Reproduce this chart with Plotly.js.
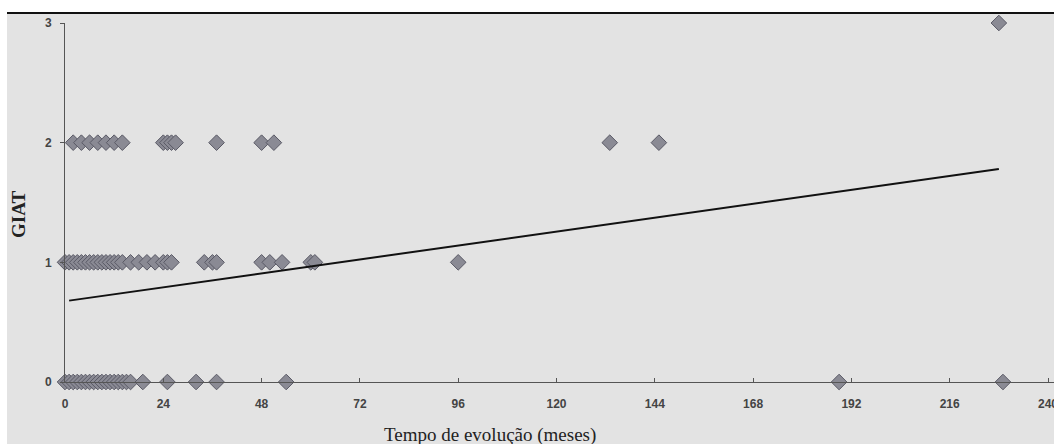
<!DOCTYPE html>
<html><head><meta charset="utf-8">
<script src="https://cdn.plot.ly/plotly-3.0.1.min.js"></script>
<style>html,body{margin:0;padding:0;background:#fff}#c{width:1054px;height:444px}</style>
</head><body><div id="c"></div>
<script>
// GIAT level 0
const x0 = [0,1,2,3,4,5,6,7,8,9,10,11,12,13,14,15,16,19,25,32,37,54,189,229];
// GIAT level 1
const x1 = [0,1,2,3,4,5,6,7,8,9,10,11,12,13,14,16,18,20,22,24,25,26,34,36,37,48,50,53,60,61,96];
// GIAT level 2
const x2 = [2,4,6,8,10,12,14,24,25,26,27,37,48,51,133,145];
// GIAT level 3
const x3 = [228];
// regression line endpoints
const fitX = [1, 228];
const fitY = [0.68, 1.78];
const xTicks = [0,24,48,72,96,120,144,168,192,216,240];
const yTicks = [0,1,2,3];

const px = [].concat(x0, x1, x2, x3);
const py = [].concat(x0.map(()=>0), x1.map(()=>1), x2.map(()=>2), x3.map(()=>3));

const W = 1054, H = 444;
const L = 65, T = 23, B = 62, R = 0;
const pw = W - L - R, ph = H - T - B;
const fx = p => (p - L) / pw;
const fy = p => (H - B - p) / ph;

const traces = [
  {x: px, y: py, type: 'scatter', mode: 'markers', cliponaxis: false,
   marker: {symbol: 'diamond', size: 12, color: '#8a8a94', line: {color: '#5a5a66', width: 1}}},
  {x: fitX, y: fitY, type: 'scatter', mode: 'lines', cliponaxis: false,
   line: {color: '#111', width: 2}}
];

const tf = {family: 'Liberation Sans, Arial, sans-serif', size: 12, color: '#444', weight: 'bold'};
const layout = {
  width: W, height: H,
  margin: {l: L, r: R, t: T, b: B},
  paper_bgcolor: '#e3e3e3', plot_bgcolor: 'rgba(0,0,0,0)',
  showlegend: false,
  xaxis: {range: [0, 240*pw/983], tickvals: xTicks, ticktext: xTicks.map(String),
          showgrid: false, zeroline: false, showline: true, linecolor: '#555', linewidth: 1,
          ticks: 'inside', ticklen: 4, tickcolor: '#555', tickfont: tf, ticklabelstandoff: 11,
          ticklabeloverflow: 'allow'},
  yaxis: {range: [0, 3], tickvals: yTicks, ticktext: yTicks.map(String),
          showgrid: false, zeroline: false, showline: true, linecolor: '#555', linewidth: 1,
          ticks: 'outside', ticklen: 4, tickcolor: '#555', tickfont: tf, ticklabelstandoff: 6},
  shapes: [
    {type: 'rect', xref: 'paper', yref: 'paper', x0: fx(0), x1: fx(W), y0: fy(0), y1: fy(13), fillcolor: '#fff', line: {width: 0}, layer: 'below'},
    {type: 'rect', xref: 'paper', yref: 'paper', x0: fx(0), x1: fx(7), y0: fy(H), y1: fy(0), fillcolor: '#fff', line: {width: 0}, layer: 'below'},
    {type: 'line', xref: 'paper', yref: 'paper', x0: fx(7), x1: fx(W), y0: fy(13), y1: fy(13), line: {color: '#111', width: 2}}
  ],
  annotations: [
    {text: 'GIAT', xref: 'paper', yref: 'paper', x: fx(19), y: fy(215), xanchor: 'center', yanchor: 'middle',
     textangle: -90, showarrow: false, font: {family: 'Liberation Serif, Times New Roman, serif', size: 19, color: '#222', weight: 'bold'}},
    {text: 'Tempo de evolução (meses)', xref: 'paper', yref: 'paper', x: fx(490), y: fy(422), xanchor: 'center', yanchor: 'top',
     showarrow: false, font: {family: 'Liberation Serif, Times New Roman, serif', size: 19, color: '#222'}}
  ]
};
Plotly.newPlot('c', traces, layout, {staticPlot: true, displayModeBar: false});
</script></body></html>
